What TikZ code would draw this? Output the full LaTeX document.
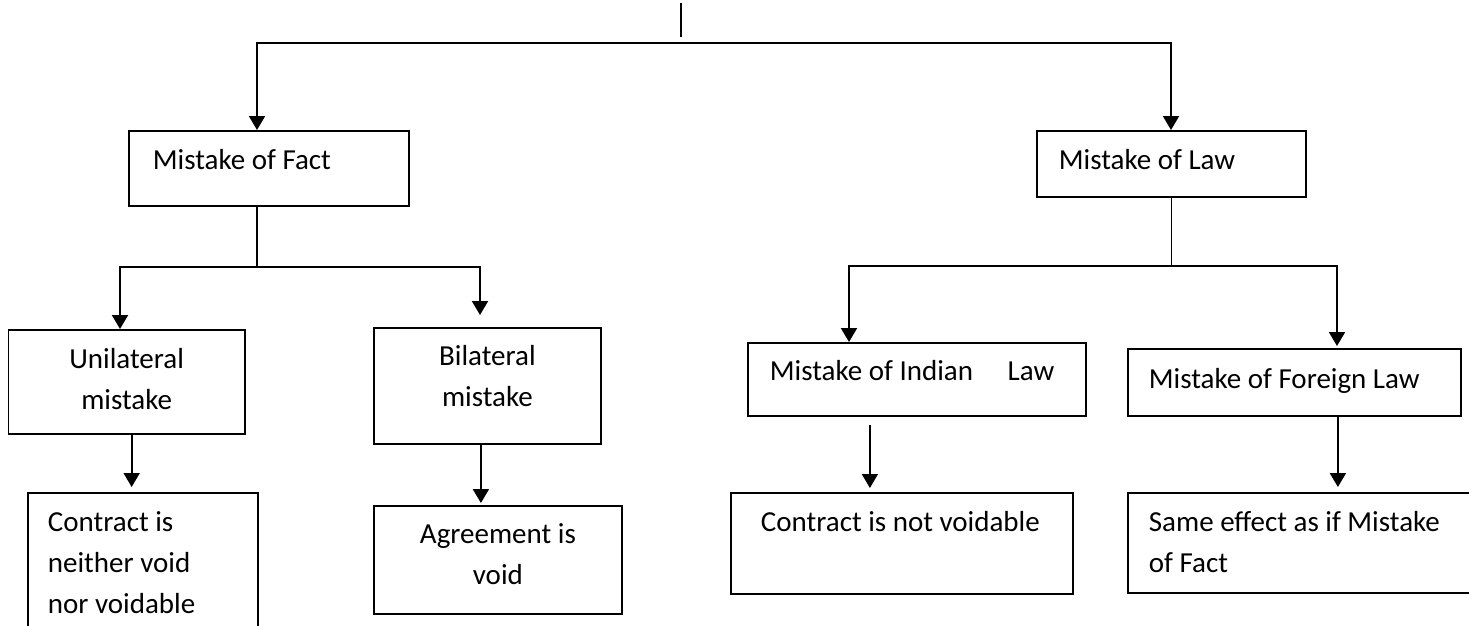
\documentclass[tikz,border=0pt]{standalone}
\usepackage{fontspec}
\setmainfont{Carlito}
\usepackage{tikz}
\usetikzlibrary{arrows.meta}
\newcommand{\boxfont}{\fontsize{29}{41}\selectfont}
\tikzset{
  block/.style={
    draw=black,
    line width=1.8pt,
    anchor=north west,
    inner ysep=0pt,
    font=\boxfont
  },
  line/.style={-{Triangle[length=14pt,width=16pt]}, line width=2pt},
  stem/.style={line width=1.5pt}
}
\begin{document}
\begin{tikzpicture}[x=1pt, y=-1pt]
        \useasboundingbox (0,0) rectangle (1469,625);
        \clip (0,0) rectangle (1469,625);
        \node[block, align=flush left, inner xsep=24pt, text width=232pt, text height=39pt, text depth=36pt] (fact) at (128,130) {Mistake of Fact};
        \node[block, align=flush left, inner xsep=22pt, text width=225pt, text height=39pt, text depth=27pt] (law) at (1036,130) {Mistake of Law};
        \node[block, align=flush center, inner xsep=10pt, text width=216.5pt, text height=38.7pt, text depth=65.3pt] (uni) at (7.5,329) {Unilateral\\mistake};
        \node[block, align=flush center, inner xsep=10pt, text width=207pt, text height=38pt, text depth=78pt] (bi) at (373,327) {Bilateral\\mistake};
        \node[block, align=flush left, inner xsep=20pt, text width=190pt, text height=38.7pt, text depth=99.3pt] (uv) at (27,492) {Contract is\\neither void\\nor voidable};
        \node[block, align=flush center, inner xsep=10pt, text width=228pt, text height=37.7pt, text depth=70.3pt] (agr) at (373,505) {Agreement is\\void};
        \node[block, align=flush left, inner xsep=22pt, text width=294pt, text height=38pt, text depth=35pt] (ind) at (747,342) {Mistake of Indian\hspace{28pt} Law};
        \node[block, align=flush left, inner xsep=21pt, text width=291pt, text height=39.3pt, text depth=27.7pt] (for) at (1127,348) {Mistake of Foreign Law};
        \node[block, align=flush left, inner xsep=21pt, text width=300pt, text height=38.7pt, text depth=62.3pt] (nv) at (730,492) {\hspace*{9pt}Contract is not voidable};
        \node[block, align=flush left, inner xsep=21pt, text width=308pt, text height=38.7pt, text depth=61.3pt] (same) at (1127,492) {Same effect as if Mistake\\of Fact};
        \coordinate (top) at (681,3);
        \coordinate (topend) at (681,37);
        \coordinate (busl) at (257,42.5);
        \coordinate (busr) at (1171,42.5);
        \coordinate (factj) at (257,268);
        \coordinate (unij) at (120,267.3);
        \coordinate (bij) at (480,267.3);
        \coordinate (indj) at (849,266);
        \coordinate (forj) at (1337,266);
        \draw[stem] (top) -- (topend);
        \draw[line] (busr) -- (busl) -- (busl |- fact.north);
        \draw[line] (busl) -- (busr) -- (busr |- law.north);
        \draw[stem] (fact.south -| factj) -- ([yshift=1.5pt]factj);
        \draw[line] (bij) -- (unij) -- (unij |- uni.north);
        \draw[line, shorten >=12pt] (unij) -- (bij) -- (bij |- bi.north);
        \draw[line, shorten >=5pt] ([xshift=5pt]uni.south) -- ([xshift=5pt]uni.south |- uv.north);
        \draw[line, shorten >=2pt] ([xshift=-6.5pt]bi.south) -- ([xshift=-6.5pt]bi.south |- agr.north);
        \draw[stem] (law.south) -- (law.south |- indj);
        \draw[line] (forj) -- (indj) -- (indj |- ind.north);
        \draw[line, shorten >=2pt] (indj) -- (forj) -- (forj |- for.north);
        \draw[line, line width=1.5pt, shorten <=8pt, shorten >=4pt] ([xshift=-47pt]ind.south) -- ([xshift=-47pt]ind.south |- nv.north);
        \draw[line, shorten >=5pt] ([xshift=43.5pt]for.south) -- ([xshift=43.5pt]for.south |- same.north);
      \end{tikzpicture}
\end{document}
